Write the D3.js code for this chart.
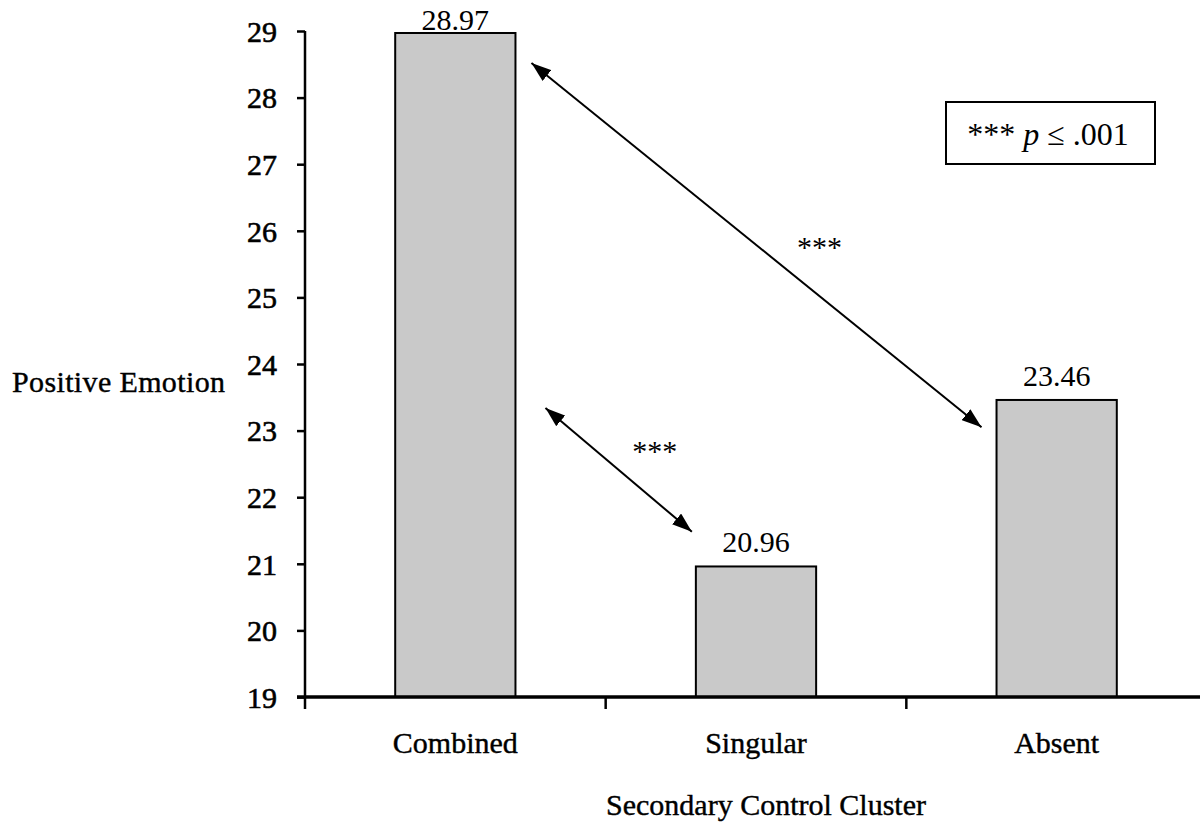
<!DOCTYPE html>
<html>
<head>
<meta charset="utf-8">
<script src="https://cdn.jsdelivr.net/npm/d3@7"></script>
<style>
  html, body { margin: 0; padding: 0; background: #fff; }
  svg { display: block; }
  text { font-family: "Liberation Serif", "Times New Roman", serif; fill: #000; }
</style>
</head>
<body>
<svg id="chart" width="1200" height="824"></svg>
<script>
// Mean positive emotion by secondary control cluster
const categories = ["Combined", "Singular", "Absent"];
const values = [28.97, 20.96, 23.46];
const yTicks = [19, 20, 21, 22, 23, 24, 25, 26, 27, 28, 29];

// Significant pairwise differences: bracket arrows, endpoints in scale units
const pairFrom = ["Combined", "Combined"];
const pairTo = ["Absent", "Singular"];
const pairFromValue = [28.52, 23.34];
const pairToValue = [23.05, 21.48];
const pairLabel = ["***", "***"];

const svg = d3.select("#chart");
const FONT = 30;

const x = d3.scaleBand().domain(categories).range([305, 1207]).paddingInner(0).paddingOuter(0);
const y = d3.scaleLinear().domain([19, 29]).range([697, 31]);
const barW = x.bandwidth() * 0.4;
const barX = c => x(c) + (x.bandwidth() - barW) / 2;

// arrowhead
const defs = svg.append("defs");
defs.append("marker")
  .attr("id", "head")
  .attr("viewBox", "0 0 20 14")
  .attr("refX", 20).attr("refY", 7)
  .attr("markerWidth", 20).attr("markerHeight", 14)
  .attr("markerUnits", "userSpaceOnUse")
  .attr("orient", "auto-start-reverse")
  .append("path").attr("d", "M0,0 L20,7 L0,14 Z").attr("fill", "#000");

// bars
svg.append("g").selectAll("rect")
  .data(categories)
  .join("rect")
  .attr("x", c => barX(c))
  .attr("y", (c, i) => y(values[i]))
  .attr("width", barW)
  .attr("height", (c, i) => y(19) - y(values[i]))
  .attr("fill", "#c9c9c9")
  .attr("stroke", "#000")
  .attr("stroke-width", 2);

// value labels
svg.append("g").selectAll("text")
  .data(categories)
  .join("text")
  .attr("x", c => x(c) + x.bandwidth() / 2)
  .attr("y", (c, i) => Math.max(y(values[i]) - 14, 30))
  .attr("text-anchor", "middle")
  .attr("font-size", FONT)
  .text((c, i) => values[i].toFixed(2));

// y axis
const yAxis = svg.append("g")
  .attr("transform", "translate(305,0)")
  .call(d3.axisLeft(y).tickValues(yTicks).tickSize(8).tickPadding(20).tickFormat(d3.format("d")));
yAxis.select(".domain").attr("stroke", "#000").attr("stroke-width", 2.5).attr("d", `M0,${y(29)}V${y(19)}`);
yAxis.selectAll(".tick line").attr("stroke", "#000").attr("stroke-width", 2.5);
yAxis.selectAll(".tick text")
  .attr("font-family", "Liberation Serif, serif")
  .attr("font-size", FONT).attr("fill", "#000")
  .attr("stroke", "#000").attr("stroke-width", 0.6)
  .attr("dy", "0.34em");

// x axis: ticks at category boundaries
const xb = d3.scaleLinear().domain([0, categories.length]).range(x.range());
const xAxis = svg.append("g").attr("transform", `translate(0,${y(19)})`);
xAxis.append("line")
  .attr("x1", xb(0) - 8).attr("x2", 1200)
  .attr("stroke", "#000").attr("stroke-width", 3.5);
xAxis.selectAll("line.tick")
  .data(d3.range(categories.length))
  .join("line")
  .attr("class", "tick")
  .attr("x1", d => xb(d)).attr("x2", d => xb(d))
  .attr("y1", 0).attr("y2", 12)
  .attr("stroke", "#000").attr("stroke-width", 2.5);
xAxis.selectAll("text")
  .data(categories)
  .join("text")
  .attr("x", c => x(c) + x.bandwidth() / 2)
  .attr("y", 56)
  .attr("text-anchor", "middle")
  .attr("font-size", FONT)
  .attr("stroke", "#000").attr("stroke-width", 0.4)
  .text(c => c);

// axis titles
svg.append("text")
  .attr("x", 12).attr("y", 392)
  .attr("font-size", FONT)
  .attr("stroke", "#000").attr("stroke-width", 0.4)
  .attr("textLength", 213)
  .text("Positive Emotion");
svg.append("text")
  .attr("x", 766).attr("y", 815)
  .attr("text-anchor", "middle")
  .attr("font-size", FONT)
  .attr("stroke", "#000").attr("stroke-width", 0.4)
  .text("Secondary Control Cluster");

// significance arrows
const pairs = pairFrom.map((f, i) => ({ f, t: pairTo[i], v1: pairFromValue[i], v2: pairToValue[i], label: pairLabel[i] }));
const gap1 = [16, 30];
const gap2 = [15, 4];
pairs.forEach((p, i) => {
  const x1 = barX(p.f) + barW + gap1[i];
  const y1 = y(p.v1);
  const x2 = barX(p.t) - gap2[i];
  const y2 = y(p.v2);
  svg.append("line")
    .attr("x1", x1).attr("y1", y1).attr("x2", x2).attr("y2", y2)
    .attr("stroke", "#000").attr("stroke-width", 2)
    .attr("marker-start", "url(#head)")
    .attr("marker-end", "url(#head)");
  svg.append("text")
    .attr("x", (x1 + x2) / 2 + (i === 0 ? 63 : 36))
    .attr("y", (y1 + y2) / 2 + (i === 0 ? 12 : -9))
    .attr("text-anchor", "middle")
    .attr("font-size", FONT)
    .text(p.label);
});

// significance key
const key = svg.append("g");
key.append("rect")
  .attr("x", 946).attr("y", 102).attr("width", 209).attr("height", 62)
  .attr("fill", "#fff").attr("stroke", "#000").attr("stroke-width", 2);
const kt = key.append("text").attr("x", 1048).attr("y", 145).attr("text-anchor", "middle").attr("font-size", 32);
kt.append("tspan").text("*** ");
kt.append("tspan").attr("font-style", "italic").text("p");
kt.append("tspan").text(" ≤ .001");
</script>
</body>
</html>
